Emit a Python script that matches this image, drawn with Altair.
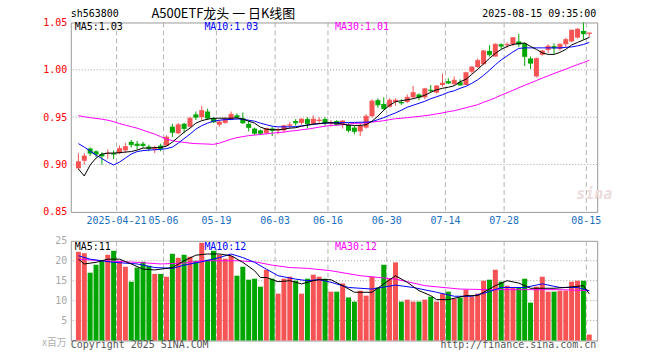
import altair as alt
import pandas as pd

RED = "#f65454"
GREEN = "#00a600"
BLUE_TXT = "#1a6fbf"
MONO = "DejaVu Sans Mono"
CJK = "Noto Sans CJK SC"

# ---------------- data ----------------
idx = list(range(88))
open_ = [0.896, 0.904, 0.917, 0.914, 0.911, 0.911, 0.912, 0.912, 0.915, 0.924,
         0.922, 0.922, 0.919, 0.916, 0.920, 0.920, 0.940, 0.933, 0.943, 0.940,
         0.953, 0.950, 0.956, 0.949, 0.942, 0.944, 0.948, 0.952, 0.949, 0.943,
         0.938, 0.936, 0.933, 0.938, 0.936, 0.936, 0.941, 0.946, 0.944, 0.948,
         0.943, 0.946, 0.948, 0.943, 0.946, 0.942, 0.942, 0.939, 0.935, 0.939,
         0.951, 0.968, 0.964, 0.961, 0.966, 0.966, 0.966, 0.971, 0.974, 0.971,
         0.979, 0.976, 0.984, 0.988, 0.985, 0.987, 0.984, 0.998, 1.003, 1.006,
         1.020, 1.014, 1.027, 1.026, 1.027, 1.030, 1.028, 1.012, 0.993, 1.016,
         1.021, 1.025, 1.022, 1.027, 1.030, 1.034, 1.041, 1.038]
high = [0.912, 0.912, 0.918, 0.915, 0.913, 0.916, 0.915, 0.920, 0.923, 0.926,
        0.925, 0.924, 0.921, 0.920, 0.922, 0.931, 0.943, 0.944, 0.944, 0.950,
        0.956, 0.962, 0.959, 0.950, 0.947, 0.950, 0.956, 0.954, 0.955, 0.946,
        0.939, 0.937, 0.939, 0.940, 0.939, 0.942, 0.945, 0.948, 0.949, 0.950,
        0.952, 0.950, 0.950, 0.947, 0.947, 0.947, 0.944, 0.941, 0.944, 0.953,
        0.969, 0.970, 0.971, 0.970, 0.970, 0.969, 0.974, 0.983, 0.975, 0.981,
        0.984, 0.984, 0.996, 0.991, 0.993, 0.990, 0.998, 1.004, 1.012, 1.021,
        1.026, 1.028, 1.028, 1.029, 1.034, 1.038, 1.029, 1.014, 1.013, 1.021,
        1.027, 1.028, 1.028, 1.034, 1.042, 1.044, 1.050, 1.039]
low = [0.895, 0.900, 0.909, 0.908, 0.900, 0.906, 0.906, 0.911, 0.912, 0.918,
       0.916, 0.918, 0.914, 0.912, 0.914, 0.919, 0.929, 0.932, 0.933, 0.939,
       0.947, 0.947, 0.947, 0.944, 0.940, 0.943, 0.947, 0.948, 0.943, 0.935,
       0.931, 0.931, 0.932, 0.930, 0.932, 0.934, 0.939, 0.941, 0.942, 0.938,
       0.942, 0.943, 0.941, 0.940, 0.941, 0.938, 0.934, 0.932, 0.930, 0.938,
       0.950, 0.960, 0.958, 0.960, 0.962, 0.963, 0.965, 0.970, 0.968, 0.969,
       0.976, 0.975, 0.982, 0.985, 0.984, 0.983, 0.984, 0.996, 1.002, 1.005,
       1.014, 1.014, 1.022, 1.023, 1.025, 1.024, 1.004, 1.001, 0.992, 1.015,
       1.018, 1.017, 1.020, 1.024, 1.029, 1.033, 1.032, 1.034]
close = [0.903, 0.909, 0.912, 0.911, 0.909, 0.912, 0.911, 0.917, 0.919, 0.921,
         0.920, 0.920, 0.917, 0.918, 0.917, 0.929, 0.934, 0.942, 0.938, 0.949,
         0.950, 0.957, 0.949, 0.945, 0.945, 0.948, 0.953, 0.950, 0.944, 0.939,
         0.933, 0.933, 0.938, 0.936, 0.937, 0.941, 0.942, 0.944, 0.948, 0.943,
         0.948, 0.947, 0.944, 0.944, 0.942, 0.946, 0.936, 0.935, 0.941, 0.951,
         0.967, 0.963, 0.959, 0.968, 0.968, 0.965, 0.971, 0.976, 0.971, 0.980,
         0.978, 0.983, 0.986, 0.986, 0.989, 0.984, 0.997, 1.003, 1.010, 1.020,
         1.016, 1.027, 1.025, 1.027, 1.034, 1.027, 1.014, 1.007, 1.012, 1.020,
         1.025, 1.023, 1.027, 1.032, 1.042, 1.043, 1.038, 1.039]
volume = [22.25, 21.9, 17.0, 19.0, 20.0, 21.5, 22.5, 20.0, 18.5, 14.75,
          18.3, 19.75, 18.75, 16.7, 16.7, 16.0, 21.75, 20.75, 21.5, 21.0,
          20.0, 24.5, 20.25, 22.5, 21.5, 20.5, 21.25, 16.25, 18.5, 15.25,
          15.5, 13.5, 17.75, 15.5, 11.75, 15.5, 16.0, 15.0, 11.75, 15.5,
          16.5, 16.0, 15.5, 12.25, 12.25, 14.3, 10.8, 9.75, 12.5, 11.25,
          16.0, 13.3, 19.0, 15.4, 19.6, 9.75, 10.25, 9.75, 9.75, 10.25,
          11.0, 9.75, 11.75, 12.25, 10.5, 10.75, 12.75, 11.0, 11.75, 15.0,
          15.25, 17.75, 14.75, 13.75, 13.25, 13.25, 15.5, 9.5, 13.5, 16.0,
          12.25, 12.25, 12.5, 12.5, 14.75, 15.0, 15.0, 1.5]
ma5 = [0.8953, 0.8879, 0.8995, 0.9068, 0.9111, 0.9121, 0.9121, 0.9126, 0.9132, 0.9137,
       0.9153, 0.9174, 0.9174, 0.9179, 0.9179, 0.9195, 0.9237, 0.9289, 0.9342, 0.9384,
       0.9437, 0.9463, 0.9479, 0.9489, 0.9489, 0.9489, 0.9489, 0.9493, 0.9479, 0.9458,
       0.9437, 0.9395, 0.9374, 0.9368, 0.9366, 0.9374, 0.9384, 0.9389, 0.9405, 0.9416,
       0.9426, 0.9432, 0.9440, 0.9442, 0.9437, 0.9426, 0.9416, 0.9413, 0.9413, 0.9421,
       0.9458, 0.9511, 0.9574, 0.9626, 0.9663, 0.9674, 0.9684, 0.9695, 0.9711, 0.9732,
       0.9763, 0.9789, 0.9805, 0.9816, 0.9832, 0.9874, 0.9900, 0.9953, 1.0005, 1.0063,
       1.0121, 1.0174, 1.0216, 1.0247, 1.0268, 1.0279, 1.0282, 1.0247, 1.0216, 1.0179,
       1.0163, 1.0163, 1.0184, 1.0216, 1.0263, 1.0289, 1.0316, 1.0342]
ma10 = [0.9221, 0.9184, 0.9142, 0.9100, 0.9063, 0.9026, 0.8995, 0.9026, 0.9068, 0.9111,
        0.9137, 0.9147, 0.9153, 0.9156, 0.9160, 0.9168, 0.9184, 0.9226, 0.9274, 0.9321,
        0.9374, 0.9411, 0.9437, 0.9458, 0.9468, 0.9474, 0.9476, 0.9481, 0.9479, 0.9468,
        0.9458, 0.9437, 0.9421, 0.9405, 0.9398, 0.9398, 0.9398, 0.9400, 0.9408, 0.9416,
        0.9426, 0.9432, 0.9437, 0.9440, 0.9442, 0.9442, 0.9444, 0.9445, 0.9447, 0.9447,
        0.9453, 0.9474, 0.9495, 0.9521, 0.9545, 0.9574, 0.9605, 0.9626, 0.9647, 0.9668,
        0.9695, 0.9716, 0.9737, 0.9763, 0.9779, 0.9805, 0.9826, 0.9858, 0.9895, 0.9942,
        0.9995, 1.0053, 1.0105, 1.0147, 1.0189, 1.0226, 1.0232, 1.0232, 1.0232, 1.0232,
        1.0232, 1.0232, 1.0232, 1.0237, 1.0242, 1.0253, 1.0268, 1.0289]
ma30 = [0.9516, 0.9505, 0.9495, 0.9487, 0.9479, 0.9468, 0.9453, 0.9432, 0.9416, 0.9400,
        0.9384, 0.9363, 0.9342, 0.9321, 0.9295, 0.9268, 0.9253, 0.9242, 0.9234, 0.9226,
        0.9221, 0.9219, 0.9216, 0.9213, 0.9226, 0.9247, 0.9268, 0.9284, 0.9295, 0.9305,
        0.9311, 0.9318, 0.9324, 0.9332, 0.9337, 0.9342, 0.9353, 0.9358, 0.9368, 0.9374,
        0.9384, 0.9395, 0.9405, 0.9413, 0.9416, 0.9421, 0.9426, 0.9434, 0.9437, 0.9442,
        0.9449, 0.9455, 0.9463, 0.9474, 0.9484, 0.9489, 0.9495, 0.9502, 0.9508, 0.9516,
        0.9524, 0.9535, 0.9545, 0.9558, 0.9568, 0.9584, 0.9600, 0.9616, 0.9632, 0.9658,
        0.9679, 0.9705, 0.9732, 0.9758, 0.9784, 0.9811, 0.9837, 0.9862, 0.9887, 0.9913,
        0.9937, 0.9961, 0.9984, 1.0007, 1.0032, 1.0055, 1.0077, 1.0100]

vma5_idx = [0, 1, 3, 5, 7, 9, 11, 13, 16, 18, 20, 22, 24, 26, 28, 30, 31, 32, 34, 36,
            38, 40, 41, 43, 45, 47, 50, 52, 54, 56, 58, 60, 61, 63, 66, 68, 71, 73, 75, 77,
            81, 83, 86, 87]
vma5 = [20.4, 19.2, 19.6, 20.4, 20.4, 19.2, 17.9, 17.7, 18.3, 20.0, 21.4, 21.7, 21.7, 21.25,
        19.6, 17.5, 15.8, 15.8, 14.75, 15.0, 14.2, 15.0, 15.25, 15.25, 13.75, 12.1, 12.1,
        14.2, 16.25, 14.6, 12.5, 11.25, 10.25, 10.25, 11.25, 11.25, 13.75, 15.0, 14.4, 13.1,
        13.1, 13.3, 13.75, 11.7]
vma10_idx = [0, 2, 6, 10, 13, 16, 18, 21, 24, 26, 28, 30, 32, 34, 37, 39, 41, 43, 46, 50,
             54, 57, 61, 64, 67, 70, 72, 76, 79, 82, 85, 87]
vma10 = [21.25, 20.4, 19.6, 19.2, 18.3, 18.1, 18.9, 19.75, 20.8, 21.7, 20.8, 19.6, 17.9,
         16.25, 15.4, 15.0, 15.25, 14.6, 13.3, 12.9, 13.9, 13.3, 12.1, 11.1, 11.1, 12.25,
         13.3, 13.3, 14.2, 13.3, 13.3, 12.5]
vma30_idx = [0, 4, 10, 14, 18, 21, 27, 30, 33, 36, 39, 43, 48, 54, 59, 65, 70, 76, 82, 87]
vma30 = [20.4, 20.0, 19.6, 19.2, 19.4, 20.0, 20.0, 19.75, 18.9, 18.3, 18.1, 17.5, 16.25,
         15.4, 13.75, 12.9, 12.75, 12.75, 12.75, 12.5]

grid_idx = [7, 15, 24, 34, 43, 53, 63, 73, 87]
grid_labels = ["2025-04-21", "05-06", "05-19", "06-03", "06-16", "06-30", "07-14", "07-28", "08-15"]
price_ticks = [0.85, 0.90, 0.95, 1.00, 1.05]
price_grid = [0.90, 0.95, 1.00]
vol_ticks = [5, 10, 15, 20, 25]
vol_grid = [5, 10, 15, 20]

# ---------------- tables ----------------
df = pd.DataFrame({"idx": idx, "open": open_, "high": high, "low": low, "close": close,
                   "vol": volume, "ma5": ma5, "ma10": ma10, "ma30": ma30})
df["dir"] = ["up" if c >= o else "down" for o, c in zip(open_, close)]
grid_df = pd.DataFrame({"gx": grid_idx, "lab": grid_labels})

W, HP, HV = 528, 190, 100
xs = alt.Scale(domain=[-0.45, 87.5], nice=False, zero=False)
ys = alt.Scale(domain=[0.85, 1.05], nice=False, zero=False)
vs = alt.Scale(domain=[0, 25], nice=False)
col = alt.Color("dir:N", scale=alt.Scale(domain=["up", "down"], range=[RED, GREEN]), legend=None)
X = alt.X("idx:Q", scale=xs, axis=None)

P_AXIS = alt.Axis(values=price_ticks, format=".2f", labelColor="#ff0000", labelFont=MONO,
                  labelFontSize=10, domain=False, ticks=False, grid=False, labelPadding=4,
                  title=None)
V_AXIS = alt.Axis(values=vol_ticks, labelColor="#a8a8a8", labelFont=MONO, labelFontSize=10,
                  domain=False, ticks=False, grid=False, labelPadding=4, title=None)


def vgrid():
    return alt.Chart(grid_df).transform_calculate(gl="datum.gx - 0.5").mark_rule(
        color="#b4b4b4", strokeDash=[5, 3], strokeWidth=1
    ).encode(x=alt.X("gl:Q", scale=xs, axis=None))


def hgrid(vals, scale, axis):
    return alt.Chart(pd.DataFrame({"gy": vals})).mark_rule(
        color="#a0a0a0", strokeDash=[1, 2], strokeWidth=1
    ).encode(y=alt.Y("gy:Q", scale=scale, axis=axis))


def text(t, x, y, color, size=10, align="left", font=MONO, **kw):
    return alt.Chart(pd.DataFrame({"t": [t]})).mark_text(
        align=align, baseline="middle", color=color, font=font, fontSize=size, **kw
    ).encode(text="t:N", x=alt.value(x), y=alt.value(y))


def line(data, field, scale, color, axis):
    return alt.Chart(data).mark_line(color=color, strokeWidth=1).encode(
        x=X, y=alt.Y(f"{field}:Q", scale=scale, axis=axis))


base = alt.Chart(df)

wick = base.mark_rule(strokeWidth=1).encode(
    x=X, y=alt.Y("low:Q", scale=ys, axis=P_AXIS), y2="high:Q", color=col)
body = base.mark_bar(size=5).encode(
    x=X, y=alt.Y("open:Q", scale=ys, axis=P_AXIS), y2="close:Q", color=col)
doji = base.mark_tick(orient="horizontal", size=5, thickness=1).encode(
    x=X, y=alt.Y("close:Q", scale=ys, axis=P_AXIS), color=col)

xlabels = alt.Chart(grid_df).transform_calculate(gl="datum.gx - 0.5").mark_text(
    color=BLUE_TXT, font=MONO, fontSize=10, baseline="middle"
).encode(x=alt.X("gl:Q", scale=xs, axis=None), y=alt.value(199), text="lab:N")

anchor_tl = alt.Chart(pd.DataFrame({"a": [0]})).mark_rule(color="white", strokeWidth=1).encode(
    x=alt.value(-69.5), y=alt.value(-20.5), y2=alt.value(-19.5))

price = alt.layer(
    hgrid(price_grid, ys, P_AXIS), vgrid(), wick, body, doji,
    line(df, "ma30", ys, "#ff00ff", P_AXIS), line(df, "ma10", ys, "#0000ff", P_AXIS),
    line(df, "ma5", ys, "#000000", P_AXIS),
    text("sh563800", 0, -8, "#000000"),
    text("A500ETF龙头 一 日K线图", 153, -8, "#000000", size=13, align="center", font=CJK),
    text("2025-08-15 09:35:00", 527, -8, "#000000", align="right"),
    text("MA5:1.03", 4, 5, "#000000"),
    text("MA10:1.03", 134, 5, "#0000ff"),
    text("MA30:1.01", 265, 5, "#ff00ff"),
    text("sina", 507, 172, "#ecdcdc", size=15, fontStyle="italic", fontWeight="bold"),
    xlabels, anchor_tl,
).properties(width=W, height=HP)

vbars = base.mark_bar(size=5).encode(
    x=X, y=alt.Y("vol:Q", scale=vs, axis=V_AXIS), color=col)

vdf5 = pd.DataFrame({"idx": vma5_idx, "v": vma5})
vdf10 = pd.DataFrame({"idx": vma10_idx, "v": vma10})
vdf30 = pd.DataFrame({"idx": vma30_idx, "v": vma30})

anchor_br = alt.Chart(pd.DataFrame({"a": [0]})).mark_rule(color="white", strokeWidth=1).encode(
    x=alt.value(589.5), y=alt.value(118.5), y2=alt.value(119.5))

vol = alt.layer(
    hgrid(vol_grid, vs, V_AXIS), vgrid(), vbars,
    line(vdf30, "v", vs, "#ff00ff", V_AXIS), line(vdf10, "v", vs, "#0000ff", V_AXIS),
    line(vdf5, "v", vs, "#000000", V_AXIS),
    text("MA5:11", 4, 6, "#000000"),
    text("MA10:12", 134, 6, "#0000ff"),
    text("MA30:12", 265, 6, "#ff00ff"),
    text("x百万", -4, 102, "#b0b0b0", align="right", font=CJK, size=10),
    text("Copyright 2025 SINA.COM", 0, 105, "#555555"),
    text("http://finance.sina.com.cn", 527, 105, "#555555", align="right"),
    anchor_br,
).properties(width=W, height=HV)

chart = alt.vconcat(price, vol, spacing=29, bounds="flush").properties(
    padding=0, background="white"
).configure_view(stroke="#999999", strokeWidth=1)

chart.save("out.html", embed_options={"renderer": "svg", "actions": False})
